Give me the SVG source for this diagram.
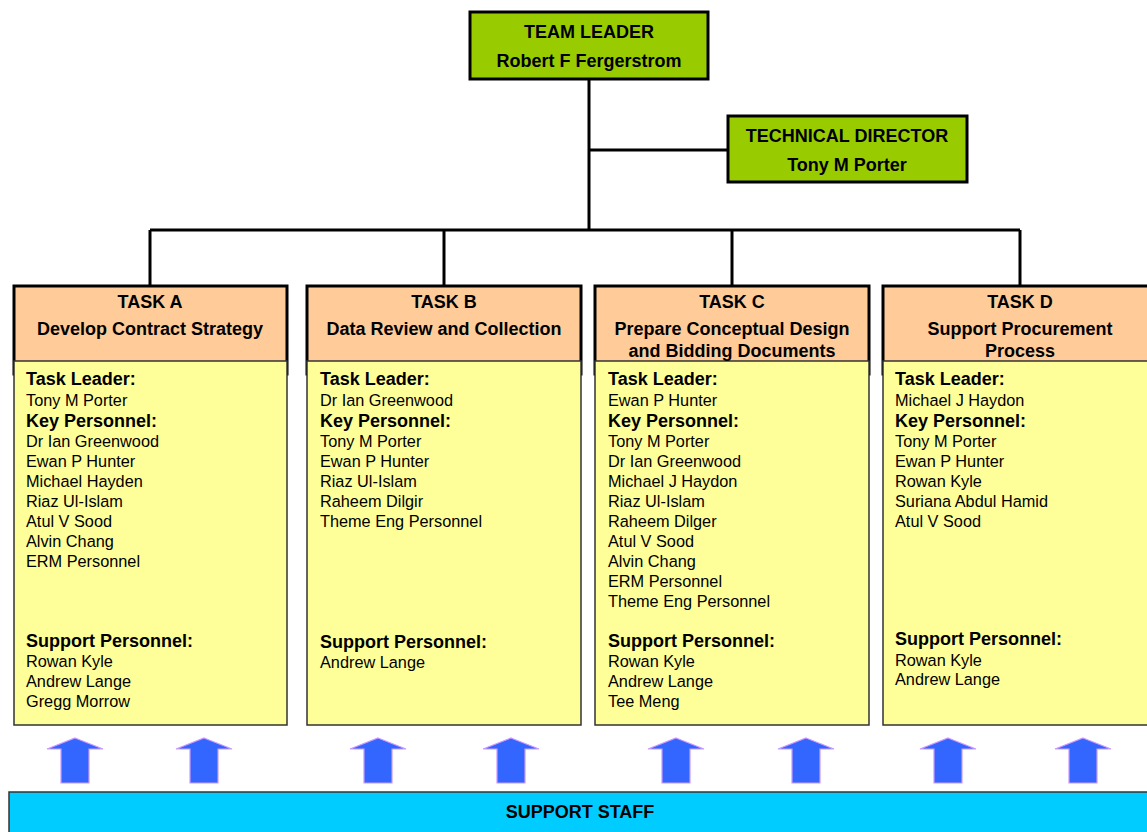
<svg xmlns="http://www.w3.org/2000/svg" width="1147" height="832" viewBox="0 0 1147 832">
<defs>
<style>
text{font-family:"Liberation Sans",Arial,sans-serif;fill:#000}
.b{font-weight:bold;font-size:18px}
.h{font-weight:bold;font-size:18px;text-anchor:middle}
.n{font-size:16.3px}
.green{fill:#99CC00;stroke:#000;stroke-width:3}
.hdr{fill:#FFCC99;stroke:#000;stroke-width:3}
.body{fill:#FFFF99;stroke:#333;stroke-width:1.5}
.con{stroke:#000;stroke-width:3;fill:none}
.arr{fill:#3366FF;stroke:#CC99FF;stroke-width:1.2}
</style>
<path id="up" d="M0,0 L28,11 L14,11 L14,45 L-14,45 L-14,11 L-28,11 Z"/>
</defs>
<rect width="1147" height="832" fill="#fff"/>

<g id="connectors">
<path class="con" d="M589,79 V230 M589,150 H728 M150,230 H1020 M150,230 V286 M444,230 V286 M732,230 V286 M1020,230 V286"/>
</g>

<g id="team-leader">
<rect class="green" x="470" y="12" width="238" height="67"/>
<text class="h" x="589" y="38">TEAM LEADER</text>
<text class="h" x="589" y="67">Robert F Fergerstrom</text>
</g>

<g id="technical-director">
<rect class="green" x="728" y="116" width="239" height="66"/>
<text class="h" x="847" y="142">TECHNICAL DIRECTOR</text>
<text class="h" x="847" y="171">Tony M Porter</text>
</g>

<g id="task-a">
<rect class="hdr" x="14" y="286" width="273" height="88"/>
<rect class="body" x="14" y="361" width="273" height="364"/>
<text class="h" x="150" y="308">TASK A</text>
<text class="h" x="150" y="335">Develop Contract Strategy</text>
<text class="b" x="26" y="385">Task Leader:</text>
<text class="n" x="26" y="406">Tony M Porter</text>
<text class="b" x="26" y="427">Key Personnel:</text>
<text class="n" x="26" y="447">Dr Ian Greenwood</text>
<text class="n" x="26" y="467">Ewan P Hunter</text>
<text class="n" x="26" y="487">Michael Hayden</text>
<text class="n" x="26" y="507">Riaz Ul-Islam</text>
<text class="n" x="26" y="527">Atul V Sood</text>
<text class="n" x="26" y="547">Alvin Chang</text>
<text class="n" x="26" y="567">ERM Personnel</text>
<text class="b" x="26" y="647">Support Personnel:</text>
<text class="n" x="26" y="667">Rowan Kyle</text>
<text class="n" x="26" y="687">Andrew Lange</text>
<text class="n" x="26" y="707">Gregg Morrow</text>
</g>

<g id="task-b">
<rect class="hdr" x="307" y="286" width="274" height="88"/>
<rect class="body" x="307" y="361" width="274" height="364"/>
<text class="h" x="444" y="308">TASK B</text>
<text class="h" x="444" y="335">Data Review and Collection</text>
<text class="b" x="320" y="385">Task Leader:</text>
<text class="n" x="320" y="406">Dr Ian Greenwood</text>
<text class="b" x="320" y="427">Key Personnel:</text>
<text class="n" x="320" y="447">Tony M Porter</text>
<text class="n" x="320" y="467">Ewan P Hunter</text>
<text class="n" x="320" y="487">Riaz Ul-Islam</text>
<text class="n" x="320" y="507">Raheem Dilgir</text>
<text class="n" x="320" y="527">Theme Eng Personnel</text>
<text class="b" x="320" y="648">Support Personnel:</text>
<text class="n" x="320" y="668">Andrew Lange</text>
</g>

<g id="task-c">
<rect class="hdr" x="595" y="286" width="274" height="88"/>
<rect class="body" x="595" y="361" width="274" height="364"/>
<text class="h" x="732" y="308">TASK C</text>
<text class="h" x="732" y="335">Prepare Conceptual Design</text>
<text class="h" x="732" y="357">and Bidding Documents</text>
<text class="b" x="608" y="385">Task Leader:</text>
<text class="n" x="608" y="406">Ewan P Hunter</text>
<text class="b" x="608" y="427">Key Personnel:</text>
<text class="n" x="608" y="447">Tony M Porter</text>
<text class="n" x="608" y="467">Dr Ian Greenwood</text>
<text class="n" x="608" y="487">Michael J Haydon</text>
<text class="n" x="608" y="507">Riaz Ul-Islam</text>
<text class="n" x="608" y="527">Raheem Dilger</text>
<text class="n" x="608" y="547">Atul V Sood</text>
<text class="n" x="608" y="567">Alvin Chang</text>
<text class="n" x="608" y="587">ERM Personnel</text>
<text class="n" x="608" y="607">Theme Eng Personnel</text>
<text class="b" x="608" y="647">Support Personnel:</text>
<text class="n" x="608" y="667">Rowan Kyle</text>
<text class="n" x="608" y="687">Andrew Lange</text>
<text class="n" x="608" y="707">Tee Meng</text>
</g>

<g id="task-d">
<rect class="hdr" x="883" y="286" width="270" height="88"/>
<rect class="body" x="883" y="361" width="270" height="364"/>
<text class="h" x="1020" y="308">TASK D</text>
<text class="h" x="1020" y="335">Support Procurement</text>
<text class="h" x="1020" y="357">Process</text>
<text class="b" x="895" y="385">Task Leader:</text>
<text class="n" x="895" y="406">Michael J Haydon</text>
<text class="b" x="895" y="427">Key Personnel:</text>
<text class="n" x="895" y="447">Tony M Porter</text>
<text class="n" x="895" y="467">Ewan P Hunter</text>
<text class="n" x="895" y="487">Rowan Kyle</text>
<text class="n" x="895" y="507">Suriana Abdul Hamid</text>
<text class="n" x="895" y="527">Atul V Sood</text>
<text class="b" x="895" y="645">Support Personnel:</text>
<text class="n" x="895" y="666">Rowan Kyle</text>
<text class="n" x="895" y="685">Andrew Lange</text>
</g>

<g id="arrows">
<use href="#up" class="arr" x="75" y="738"/>
<use href="#up" class="arr" x="204" y="738"/>
<use href="#up" class="arr" x="378" y="738"/>
<use href="#up" class="arr" x="511" y="738"/>
<use href="#up" class="arr" x="676" y="738"/>
<use href="#up" class="arr" x="806" y="738"/>
<use href="#up" class="arr" x="948" y="738"/>
<use href="#up" class="arr" x="1083" y="738"/>
</g>

<g id="support-staff">
<rect x="9" y="792" width="1145" height="45" fill="#00CCFF" stroke="#333" stroke-width="1.5"/>
<text class="h" x="580" y="818">SUPPORT STAFF</text>
</g>
</svg>
